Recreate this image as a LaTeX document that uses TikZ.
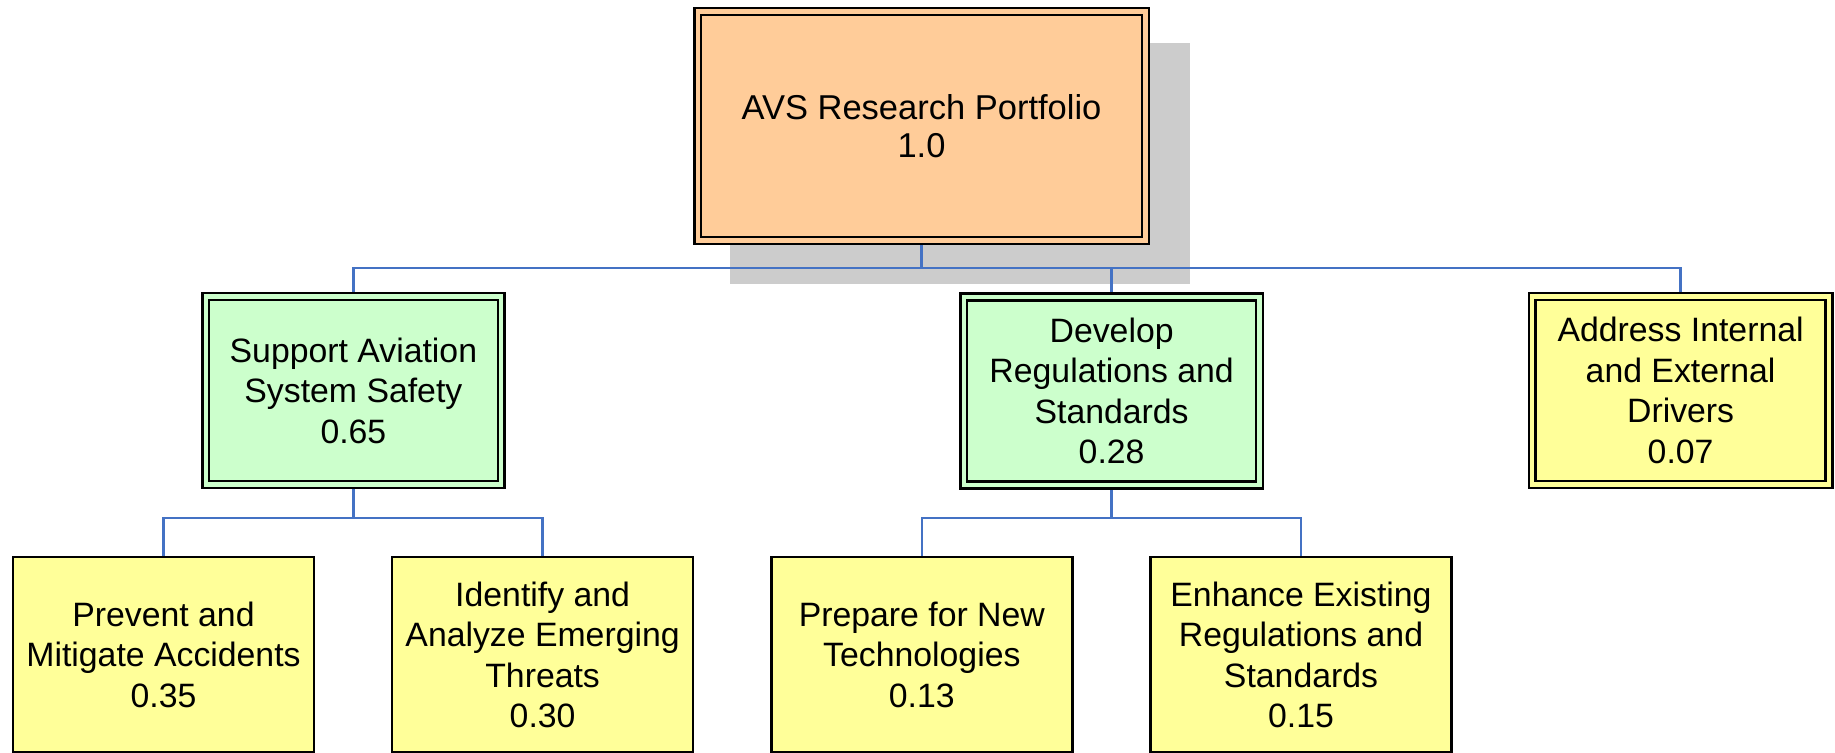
\documentclass[tikz,border=0pt]{standalone}
\usepackage{fontspec}
\setmainfont{Liberation Sans}
\usetikzlibrary{backgrounds}
\definecolor{peach}{HTML}{FFCC99}
\definecolor{mint}{HTML}{CCFFCC}
\definecolor{lemon}{HTML}{FFFF99}
\definecolor{linkblue}{HTML}{4472C4}
\definecolor{shadowgray}{HTML}{CCCCCC}
\begin{document}
\begin{tikzpicture}[x=1pt,y=-1pt,
  boxtext/.style={font=\fontsize{33.8}{40.5}\selectfont, align=center, inner sep=0pt, rectangle},
  dblbox/.style={boxtext, draw=black, line width=2.5pt, double distance=4.2pt},
  rootbox/.style={dblbox, font=\fontsize{34.5}{38}\selectfont, double=peach, fill=peach, minimum width=447.8pt, minimum height=228.8pt},
  midgreen/.style={dblbox, double=mint, fill=mint, minimum width=295.6pt, minimum height=188pt},
  midyellow/.style={dblbox, double=lemon, fill=lemon, minimum width=296.8pt, minimum height=188pt},
  leafbox/.style={boxtext, draw=black, line width=2.5pt, fill=lemon, minimum width=301pt, minimum height=195.3pt},
  conn/.style={draw=linkblue, line width=2.5pt}]
\useasboundingbox (0,0) rectangle (1835,752);
\clip (0,0) rectangle (1835,752);

\node[rootbox] (root) at (921.5,126) {AVS Research Portfolio\\1.0};
\node[midgreen] (support) at (353.4,390.5) {Support Aviation\\System Safety\\0.65};
\node[midgreen] (develop) at (1111.6,391) {Develop\\Regulations and\\Standards\\0.28};
\node[midyellow] (address) at (1680.6,390.5) {Address Internal\\and External\\Drivers\\0.07};

\node[leafbox] (prevent) at (163.5,654.8) {Prevent and\\Mitigate Accidents\\0.35};
\node[leafbox] (identify) at (542.6,654.8) {Identify and\\Analyze Emerging\\Threats\\0.30};
\node[leafbox] (prepare) at (921.8,654.8) {Prepare for New\\Technologies\\0.13};
\node[leafbox] (enhance) at (1301,654.8) {Enhance Existing\\Regulations and\\Standards\\0.15};

\begin{scope}[on background layer]
  \fill[shadowgray] ([shift={(33.4,32.4)}]root.north west) rectangle ([shift={(43.6,42.6)}]root.south east);
  \coordinate (busa) at (0,268);
  \coordinate (busb) at (0,518);
  \draw[conn] (root.south) -- (root.south |- busa) -| (support.north);
  \draw[conn] (root.south |- busa) -| (develop.north);
  \draw[conn] (root.south |- busa) -| (address.north);
  \draw[conn] (support.south) -- (support.south |- busb) -| (prevent.north);
  \draw[conn] (support.south |- busb) -| (identify.north);
  \draw[conn] (develop.south) -- (develop.south |- busb) -| (prepare.north);
  \draw[conn] (develop.south |- busb) -| (enhance.north);
\end{scope}
\end{tikzpicture}
\end{document}
